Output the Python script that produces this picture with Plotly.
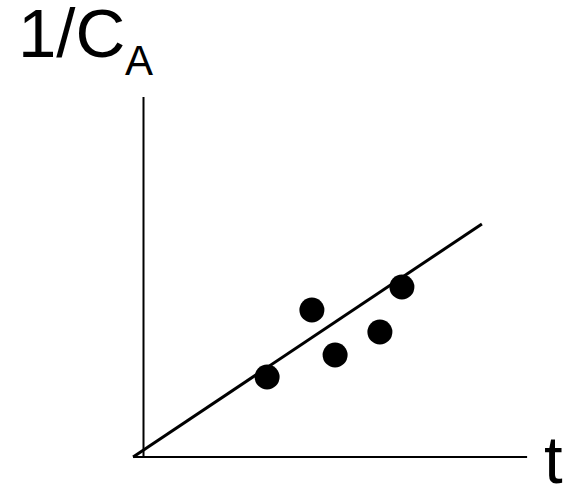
import plotly.graph_objects as go

# Measured data: time vs. reciprocal concentration
t_data = [3.09, 4.21, 4.79, 5.91, 6.46]
inv_ca = [2.0, 3.675, 2.55, 3.125, 4.25]

# Fitted straight line 1/CA = k*t + b, drawn over this t span
fit_slope = 0.668
fit_intercept = 0.174
fit_t = [-0.26, 8.46]
fit_y = [fit_slope * t + fit_intercept for t in fit_t]

# Hand-drawn axes
yaxis_t = [0.0, 0.0]
yaxis_v = [0.0, 9.0]
xaxis_t = [-0.26, 9.59]
xaxis_v = [0.0, 0.0]

W, H = 573, 486
PX = 40.0  # pixels per data unit
x_range = [-143.5 / PX, (W - 143.5) / PX]
y_range = [(457 - H) / PX, 457 / PX]

black = "#000000"
fig = go.Figure()
fig.add_trace(go.Scatter(x=yaxis_t, y=yaxis_v, mode="lines",
                         line=dict(color=black, width=2), hoverinfo="skip"))
fig.add_trace(go.Scatter(x=xaxis_t, y=xaxis_v, mode="lines",
                         line=dict(color=black, width=2), hoverinfo="skip"))
fig.add_trace(go.Scatter(x=fit_t, y=fit_y, mode="lines",
                         line=dict(color=black, width=3), hoverinfo="skip"))
fig.add_trace(go.Scatter(x=t_data, y=inv_ca, mode="markers",
                         marker=dict(color=black, size=25, line=dict(width=0))))

font = "Liberation Sans, Arial, sans-serif"
fig.update_layout(
    width=W, height=H,
    margin=dict(l=0, r=0, t=0, b=0),
    paper_bgcolor="white", plot_bgcolor="white",
    showlegend=False,
    xaxis=dict(range=x_range, visible=False, fixedrange=True),
    yaxis=dict(range=y_range, visible=False, fixedrange=True),
    annotations=[
        dict(text="1/C", x=16 / W, y=1 + 7 / H, xref="paper", yref="paper",
             xanchor="left", yanchor="top", showarrow=False,
             font=dict(family=font, size=69, color=black)),
        dict(text="A", x=123 / W, y=1 - 35 / H, xref="paper", yref="paper",
             xanchor="left", yanchor="top", showarrow=False,
             font=dict(family=font, size=42, color=black)),
        dict(text="t", x=542 / W, y=1 - 420 / H, xref="paper", yref="paper",
             xanchor="left", yanchor="top", showarrow=False,
             font=dict(family=font, size=67, color=black)),
    ],
)

fig.write_html("out.html")
